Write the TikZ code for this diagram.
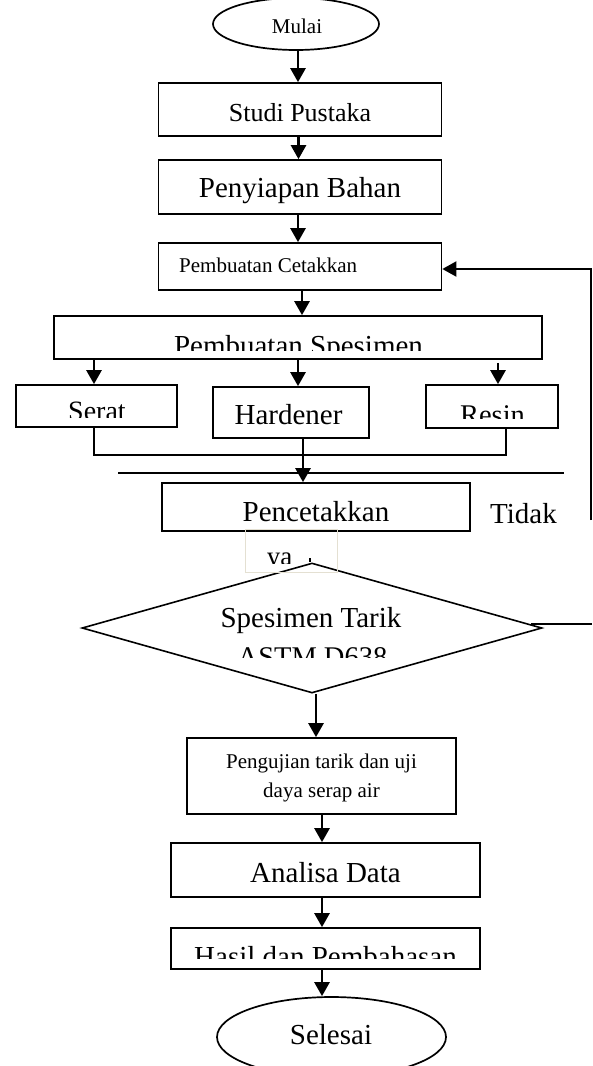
\documentclass[tikz,border=0pt]{standalone}
\usepackage{fontspec}
\setmainfont{Liberation Serif}
\usetikzlibrary{arrows.meta,shapes.geometric,calc}
\definecolor{yaframe}{RGB}{228,224,210}
\newcommand\fsz[1]{\fontsize{#1}{#1}\selectfont}
\begin{document}
\begin{tikzpicture}[x=1pt,y=-1pt,
  box/.style={draw, line width=1.7pt, inner sep=0pt, rectangle},
  oval/.style={draw, line width=1.7pt, inner sep=0pt, ellipse},
  arr/.style={line width=2.6pt, -{Triangle[width=15pt,length=14pt]}},
  thinline/.style={line width=1.7pt},
  txt/.style={inner sep=0pt, anchor=base},
]
\useasboundingbox (0,0) rectangle (592,1066);

% ---- nodes ----
\node[oval, minimum width=166pt, minimum height=52pt] (mulai) at (296,24) {};
\node[txt, font=\fsz{21}] (tmulai) at (297,33) {Mulai};

\node[box, minimum width=283pt, minimum height=53pt] (studi) at (300,109.5) {};
\node[txt, font=\fsz{26}] (tstudi) at (300,121) {Studi Pustaka};

\node[box, minimum width=283pt, minimum height=54pt] (siap) at (300,187) {};
\node[txt, font=\fsz{29}] (tsiap) at (300,197) {Penyiapan Bahan};

\node[box, minimum width=283pt, minimum height=47pt] (cetak) at (300,266.5) {};
\node[txt, font=\fsz{21}, anchor=base west] (tcetak) at (179,272) {Pembuatan Cetakkan};

\node[box, minimum width=488pt, minimum height=43pt] (spes) at (298,337.5) {};
\begin{scope}
  \clip (55,318) rectangle (541,350);
  \node[txt, font=\fsz{29}] (tspes) at (298.5,355) {Pembuatan Spesimen};
\end{scope}

\node[box, minimum width=161pt, minimum height=42pt] (serat) at (96.5,406) {};
\begin{scope}
  \clip (17,387) rectangle (176,417);
  \node[txt, font=\fsz{28}] (tserat) at (97,420.5) {Serat};
\end{scope}

\node[box, minimum width=156pt, minimum height=51pt] (hard) at (291,412.5) {};
\node[txt, font=\fsz{29}] (thard) at (288.5,424) {Hardener};

\node[box, minimum width=132pt, minimum height=43pt] (resin) at (492,406.5) {};
\begin{scope}
  \clip (427,387) rectangle (557,418);
  \node[txt, font=\fsz{28.5}] (tresin) at (492.5,424) {Resin};
\end{scope}

\node[box, minimum width=308pt, minimum height=48pt] (cetak2) at (316,507) {};
\node[txt, font=\fsz{29}] (tcetak2) at (316,521) {Pencetakkan};
\node[txt, font=\fsz{29}] (tidak) at (523.5,523) {Tidak};

\node[diamond, draw, fill=white, line width=1.6pt, inner sep=0pt,
      minimum width=460pt, minimum height=130pt] (dec) at (312,628) {};
\node[draw=yaframe, line width=1pt, inner sep=0pt,
      minimum width=92pt, minimum height=43pt] (yabox) at (291,550.5) {};
\begin{scope}
  \clip (246,540) rectangle (336,563);
  \node[txt, font=\fsz{27}] (tya) at (279.5,565.5) {ya};
\end{scope}
\node[txt, font=\fsz{29}] (tdec1) at (311,627) {Spesimen Tarik};
\begin{scope}
  \clip (200,640) rectangle (420,657);
  \node[txt, font=\fsz{28.5}] (tdec2) at (312.5,666) {ASTM D638};
\end{scope}

\node[box, minimum width=269pt, minimum height=76pt] (uji) at (321.5,776) {};
\node[txt, font=\fsz{21}] (tuji1) at (321.5,768) {Pengujian tarik dan uji};
\node[txt, font=\fsz{21}] (tuji2) at (321.5,797) {daya serap air};

\node[box, minimum width=309pt, minimum height=54pt] (anal) at (325.5,870) {};
\node[txt, font=\fsz{29}] (tanal) at (325.5,882) {Analisa Data};

\node[box, minimum width=309pt, minimum height=41pt] (hasil) at (325.5,948.5) {};
\begin{scope}
  \clip (172,930) rectangle (479,958);
  \node[txt, font=\fsz{29}] (thasil) at (325.5,966) {Hasil dan Pembahasan};
\end{scope}

\node[oval, minimum width=229pt, minimum height=80pt] (sel) at (331.5,1037) {};
\node[txt, font=\fsz{29}] (tsel) at (331,1044) {Selesai};

% ---- connectors ----
\draw[arr] ([xshift=2pt]mulai.south) -- ([xshift=-2pt]studi.north);
\draw[arr] ([xshift=-1.5pt]studi.south) -- ([xshift=-1.5pt]siap.north);
\draw[arr] ([xshift=-2pt]siap.south) -- ([xshift=-2pt]cetak.north);
\draw[arr] ([xshift=2pt]cetak.south) -- ([xshift=4pt]spes.north);

\coordinate (aS) at ([xshift=-2.5pt]serat.north);
\coordinate (aH) at ([xshift=7pt]hard.north);
\coordinate (aR) at ([xshift=6pt]resin.north);
\draw[arr] (spes.south -| aS) -- (aS);
\draw[arr] (spes.south -| aH) -- (aH);
\draw[arr] ([yshift=-3pt]spes.south -| aR) -- (aR);

\draw[thinline] ([xshift=-2.5pt]serat.south) -- ++(0,27) -| ([xshift=14pt]resin.south);

\coordinate (aP) at ([xshift=12pt]hard.south);
\draw[arr] (aP) -- (cetak2.north -| aP);

\coordinate (l1) at (118,473);
\coordinate (l2) at (564,473);
\draw[thinline] (l1) -- (l2);

\coordinate (fbTop) at (591,269);
\coordinate (fbBot) at (591,520);
\draw[arr, line width=2pt] (fbBot) -- (fbTop) -- (cetak.east |- fbTop);
\coordinate (r2) at (592,624);
\draw[thinline] ([xshift=-12pt,yshift=4pt]dec.east) -- (r2);

\coordinate (tk) at (310,558);
\draw[thinline] (tk) -- (dec.north -| tk);

\coordinate (aU) at ([xshift=4pt]dec.south);
\draw[arr] (aU) -- (uji.north -| aU);
\coordinate (aA) at ([xshift=0.5pt]uji.south);
\draw[arr] (aA) -- (anal.north -| aA);
\coordinate (aB) at ([xshift=-3.5pt]anal.south);
\draw[arr] (aB) -- (hasil.north -| aB);
\coordinate (aC) at ([xshift=-3.5pt]hasil.south);
\draw[arr] (aC) -- (sel.north -| aC);
\end{tikzpicture}
\end{document}
